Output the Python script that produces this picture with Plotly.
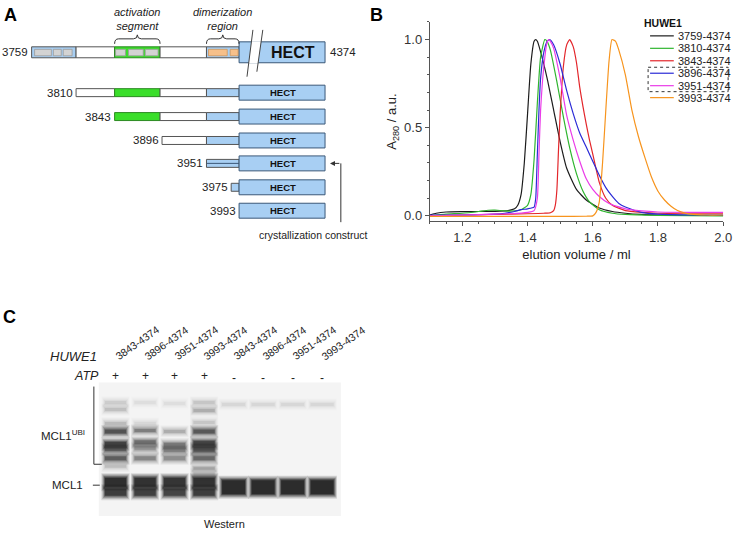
import plotly.graph_objects as go

FONT = "Arial, 'Liberation Sans', Helvetica, sans-serif"
DARK = "#222222"

# ---------------- Panel B data (size-exclusion traces) ----------------
series_names = ["3759-4374", "3810-4374", "3843-4374", "3896-4374", "3951-4374", "3993-4374"]
series_colors = ["#1c1c1c", "#2fb52f", "#e3262b", "#2b2bd6", "#ea3ce8", "#f7941d"]

vol_3759 = [1.10, 1.12, 1.15, 1.20, 1.25, 1.30, 1.34, 1.36, 1.37, 1.38, 1.39, 1.40, 1.41, 1.42, 1.425,
            1.43, 1.44, 1.46, 1.48, 1.50, 1.52, 1.55, 1.58, 1.62, 1.66, 1.70, 1.75, 1.80, 1.90, 2.00]
abs_3759 = [0.005, 0.015, 0.022, 0.024, 0.025, 0.026, 0.030, 0.040, 0.060, 0.120, 0.300, 0.580, 0.860, 0.990, 1.000,
            0.990, 0.930, 0.780, 0.600, 0.420, 0.270, 0.150, 0.090, 0.045, 0.025, 0.015, 0.008, 0.005, 0.003, 0.003]

vol_3810 = [1.10, 1.15, 1.20, 1.25, 1.28, 1.30, 1.33, 1.36, 1.38, 1.40, 1.41, 1.42, 1.43, 1.44, 1.453,
            1.46, 1.47, 1.49, 1.51, 1.53, 1.55, 1.57, 1.59, 1.62, 1.66, 1.70, 1.80, 2.00]
abs_3810 = [0.000, 0.010, 0.015, 0.025, 0.032, 0.033, 0.028, 0.028, 0.035, 0.060, 0.120, 0.320, 0.640, 0.900, 1.000,
            0.990, 0.940, 0.760, 0.560, 0.380, 0.240, 0.140, 0.080, 0.035, 0.015, 0.008, 0.003, 0.000]

vol_3843 = [1.10, 1.20, 1.30, 1.35, 1.40, 1.45, 1.47, 1.48, 1.485, 1.49, 1.495, 1.50, 1.51, 1.52, 1.529,
            1.54, 1.55, 1.56, 1.57, 1.58, 1.59, 1.60, 1.62, 1.64, 1.66, 1.70, 1.75, 1.80, 1.90, 2.00]
abs_3843 = [0.000, 0.005, 0.008, 0.010, 0.012, 0.015, 0.018, 0.030, 0.060, 0.150, 0.380, 0.580, 0.850, 0.970, 1.000,
            0.960, 0.870, 0.730, 0.620, 0.520, 0.430, 0.350, 0.190, 0.100, 0.060, 0.030, 0.020, 0.015, 0.015, 0.015]

vol_3896 = [1.10, 1.20, 1.30, 1.33, 1.36, 1.38, 1.40, 1.42, 1.425, 1.43, 1.435, 1.44, 1.45, 1.46, 1.468,
            1.48, 1.50, 1.52, 1.54, 1.56, 1.58, 1.60, 1.62, 1.64, 1.66, 1.68, 1.70, 1.75, 1.80, 1.90, 2.00]
abs_3896 = [0.005, 0.005, 0.010, 0.015, 0.025, 0.035, 0.040, 0.050, 0.100, 0.350, 0.600, 0.780, 0.930, 0.990, 1.000,
            0.970, 0.860, 0.710, 0.580, 0.470, 0.390, 0.310, 0.230, 0.160, 0.110, 0.070, 0.050, 0.020, 0.010, 0.005, 0.005]

vol_3951 = [1.10, 1.20, 1.30, 1.35, 1.40, 1.42, 1.43, 1.435, 1.44, 1.45, 1.46, 1.465, 1.47, 1.48, 1.50,
            1.52, 1.54, 1.56, 1.58, 1.60, 1.62, 1.65, 1.70, 1.75, 1.80, 1.90, 2.00]
abs_3951 = [0.000, 0.005, 0.010, 0.012, 0.020, 0.030, 0.100, 0.350, 0.600, 0.850, 0.985, 1.000, 0.990, 0.950, 0.780,
            0.570, 0.430, 0.310, 0.210, 0.150, 0.110, 0.070, 0.040, 0.028, 0.022, 0.020, 0.020]

vol_3993 = [1.10, 1.30, 1.50, 1.58, 1.60, 1.61, 1.62, 1.63, 1.64, 1.65, 1.659, 1.67, 1.68, 1.70, 1.72,
            1.74, 1.76, 1.78, 1.80, 1.82, 1.84, 1.86, 1.88, 1.90, 1.95, 2.00]
abs_3993 = [-0.003, -0.003, -0.003, -0.002, 0.000, 0.020, 0.080, 0.300, 0.600, 0.880, 1.000, 0.990, 0.940, 0.800, 0.600,
            0.450, 0.330, 0.220, 0.140, 0.090, 0.055, 0.030, 0.017, 0.010, 0.005, 0.005]

series_x = [vol_3759, vol_3810, vol_3843, vol_3896, vol_3951, vol_3993]
series_y = [abs_3759, abs_3810, abs_3843, abs_3896, abs_3951, abs_3993]

x_ticks = [1.2, 1.4, 1.6, 1.8, 2.0]
x_ticktext = ["1.2", "1.4", "1.6", "1.8", "2.0"]
y_ticks = [0.0, 0.5, 1.0]
y_ticktext = ["0.0", "0.5", "1.0"]

# ---------------- Panel A data (constructs) ----------------
construct_starts = [3759, 3810, 3843, 3896, 3951, 3975, 3993]
construct_end = 4374
# schematic (not to scale) pixel position of each construct start
construct_px = [32, 77, 116, 164, 209, 234, 242]
# domain segments of the N-terminal extension: (start px, end px, kind)
segments = [(32, 77, "blue"), (77, 116, "white"), (116, 162, "green"), (162, 209, "white"), (209, 242, "blue")]

# ---------------- Panel C data (western blot) ----------------
lane_labels = ["3843-4374", "3896-4374", "3951-4374", "3993-4374",
               "3843-4374", "3896-4374", "3951-4374", "3993-4374"]
lane_atp = ["+", "+", "+", "+", "-", "-", "-", "-"]
band_lane = [1, 1, 1, 1, 1, 1, 1, 1, 1, 1,
             2, 2, 2, 2, 2, 2, 2, 2,
             3, 3, 3, 3, 3, 3, 3,
             4, 4, 4, 4, 4, 4, 4, 4, 4, 4, 4,
             5, 5, 6, 6, 7, 7, 8, 8]
band_y = [404, 411, 425, 433, 446, 451, 460, 468, 484, 494,
          404, 425, 432, 444, 450, 460, 484, 494,
          405, 433, 447, 452, 460, 484, 494,
          404, 412, 424, 433, 445, 451, 460, 470, 476, 484, 494,
          406, 489, 406, 489, 406, 489, 406, 489]
band_h = [3, 3, 3, 4, 5, 4, 4, 3, 9, 7,
          3, 3, 3, 4, 4, 4, 9, 7,
          3, 3, 5, 4, 4, 9, 7,
          3, 3, 3, 4, 5, 5, 4, 3, 4, 9, 7,
          3, 14, 3, 14, 3, 14, 3, 14]
band_alpha = [0.10, 0.14, 0.16, 0.62, 0.72, 0.50, 0.55, 0.15, 0.92, 0.78,
              0.05, 0.07, 0.38, 0.45, 0.28, 0.35, 0.90, 0.75,
              0.05, 0.20, 0.40, 0.32, 0.32, 0.86, 0.72,
              0.12, 0.20, 0.12, 0.58, 0.70, 0.62, 0.50, 0.22, 0.14, 0.90, 0.78,
              0.07, 0.97, 0.07, 0.97, 0.07, 0.97, 0.07, 0.98]

fig = go.Figure()

for name, col, xs, ys in zip(series_names, series_colors, series_x, series_y):
    fig.add_trace(go.Scatter(x=xs, y=ys, mode="lines", name=name,
                             line=dict(color=col, width=1.2, shape="spline", smoothing=0.5),
                             showlegend=False, hoverinfo="skip", xaxis="x", yaxis="y"))

# anchor traces for overlay axes
fig.add_trace(go.Scatter(x=[None], y=[None], xaxis="x2", yaxis="y2", showlegend=False, hoverinfo="skip"))
fig.add_trace(go.Scatter(x=[None], y=[None], xaxis="x3", yaxis="y2", showlegend=False, hoverinfo="skip"))

shapes = []
ann = []


def S(**kw):
    d = dict(xref="x2", yref="y2")
    d.update(kw)
    shapes.append(d)


def A(x, y, text, size=11, xanchor="center", yanchor="middle", color=DARK, xref="x2", **kw):
    d = dict(x=x, y=y, xref=xref, yref="y2", text=text, showarrow=False,
             xanchor=xanchor, yanchor=yanchor, font=dict(family=FONT, size=size, color=color))
    d.update(kw)
    ann.append(d)


BLUE = "#a8cff3"
BLUE_LINE = "#3b5878"
GREEN = "#3ade2a"
BAR_LINE = "#555555"

# ---------------- Panel A ----------------
row_y = [52.5, 93, 117, 141, 164, 188, 211.5]
for i, (start, px, yc) in enumerate(zip(construct_starts, construct_px, row_y)):
    hb = 5.5 if i == 0 else 4
    for (s0, s1, kind) in segments:
        a0 = max(s0, px)
        if a0 >= s1:
            continue
        fill = {"blue": BLUE, "white": "white", "green": GREEN}[kind]
        lc = "#2d8a22" if kind == "green" else BAR_LINE
        S(type="rect", x0=a0, x1=s1, y0=yc - hb, y1=yc + hb, fillcolor=fill,
          line=dict(color=lc, width=1))
    if i == 4:
        S(type="line", x0=px, x1=242, y0=yc, y1=yc, line=dict(color=BLUE_LINE, width=1))
    if i == 0:
        S(type="rect", x0=242, x1=329, y0=42, y1=63, fillcolor=BLUE, line=dict(color=BLUE_LINE, width=1))
        A(297, 53, "<b>HECT</b>", size=16, color="#111")
        A(30, yc, str(start), size=11.5, xanchor="right")
        A(332, yc, str(construct_end), size=11.5, xanchor="left")
    else:
        S(type="rect", x0=242, x1=329, y0=yc - 7.5, y1=yc + 7.5, fillcolor=BLUE,
          line=dict(color=BLUE_LINE, width=1))
        A(286, yc, "<b>HECT</b>", size=9.5, color="#111")
        A(px - 1.5, yc, str(start), size=11.5, xanchor="right")

# gray/orange subdomain pills on the full-length construct
for (p0, p1) in [(35, 52), (54, 62), (64, 73), (117, 127), (130, 145), (147, 160)]:
    S(type="rect", x0=p0, x1=p1, y0=49.5, y1=56, fillcolor="#d3d3d3", line=dict(color="#9a9a9a", width=0.8))
for (p0, p1) in [(211, 230), (233, 241)]:
    S(type="rect", x0=p0, x1=p1, y0=49.5, y1=56, fillcolor="#f7c08a", line=dict(color="#d0955a", width=0.8))

# break marks on HECT
S(type="path", path="M 254.5 41.5 L 264.3 41.5 L 261.3 63.5 L 251.8 63.5 Z", fillcolor="white",
  line=dict(width=0))
S(type="line", x0=256, y0=30, x1=250, y1=77, line=dict(color="#444", width=1))
S(type="line", x0=266, y0=30, x1=260, y1=72, line=dict(color="#444", width=1))

# braces + labels
for (b0, b1, label) in [(116, 162, "<i>activation<br>segment</i>"), (209, 242, "<i>dimerization<br>region</i>")]:
    m = (b0 + b1) / 2
    S(type="path", path=f"M {b0} 44 Q {b0} 39 {b0+4} 39 L {m-4} 39 Q {m} 39 {m} 35 "
                        f"Q {m} 39 {m+4} 39 L {b1-4} 39 Q {b1} 39 {b1} 44",
      line=dict(color="#333", width=1))
    A(m, 19, label, size=11, color="#222")

# crystallization construct arrow
S(type="line", x0=345, x1=345, y0=164, y1=223, line=dict(color="#333", width=1))
ann.append(dict(x=334, y=164, ax=345, ay=164, xref="x2", yref="y2", axref="x2", ayref="y2",
                showarrow=True, arrowhead=2, arrowsize=1, arrowwidth=1, arrowcolor="#333", text=" ",
                font=dict(size=1)))
A(317, 236, "crystallization construct", size=10.5)

# ---------------- Panel B legend (manual) ----------------
A(650, 23, "<b>HUWE1</b>", size=10.5, xanchor="left", color="#111")
leg_y = [36, 48.5, 61, 73.5, 86, 98]
for name, col, ly in zip(series_names, series_colors, leg_y):
    S(type="line", x0=658, x1=682, y0=ly, y1=ly, line=dict(color=col, width=1.2))
    A(684, ly, name, size=11, xanchor="left", color="#222")
S(type="rect", x0=656, x1=737, y0=67.5, y1=92, line=dict(color="#333", width=1, dash="dot"))

# ---------------- Panel C ----------------
S(type="rect", x0=100, x1=345, y0=384, y1=518, fillcolor="#f4f4f4", line=dict(width=0), layer="below")
for i, (lab, atp) in enumerate(zip(lane_labels, lane_atp)):
    lane = i + 1
    A(lane, 344, lab, size=10.5, xref="x3", textangle=-35, xshift=21)
    A(lane, 377 if atp == "+" else 379, atp, size=12, xref="x3")

# soft-edged bands: several nested layers
blur_dx = [0.12, 0.09, 0.06, 0.03, 0.0]
blur_dy = [4.5, 3.4, 2.3, 1.1, 0.0]
blur_f = [0.15, 0.2, 0.3, 0.45, 0.7]
for ln, by, bh, al in zip(band_lane, band_y, band_h, band_alpha):
    w = 0.36 if ln <= 4 else 0.39
    for dx, dy, f in zip(blur_dx, blur_dy, blur_f):
        shapes.append(dict(type="rect", xref="x3", yref="y2", x0=ln - w - dx, x1=ln + w + dx,
                           y0=by - bh / 2 - dy, y1=by + bh / 2 + dy,
                           fillcolor=f"rgba(25,25,25,{al*f:.3f})", line=dict(width=0)))

A(100, 358, "<i>HUWE1</i>", size=13, xanchor="right")
A(102, 377, "<i>ATP</i>", size=12.5, xanchor="right")
S(type="line", x0=95, x1=95, y0=388, y1=466, line=dict(color="#333", width=1))
S(type="line", x0=95, x1=103, y0=466, y1=466, line=dict(color="#333", width=1))
A(88, 437, "MCL1<sup>UBI</sup>", size=11.5, xanchor="right")
A(86, 487, "MCL1", size=11.5, xanchor="right")
S(type="line", x0=94, x1=101, y0=487, y1=487, line=dict(color="#333", width=1))
A(227, 526, "Western", size=11)

# panel letters
A(11, 15, "<b>A</b>", size=18, color="#000")
A(381, 15, "<b>B</b>", size=18, color="#000")
A(10, 318, "<b>C</b>", size=18, color="#000")

fig.update_layout(
    width=747, height=536,
    margin=dict(l=0, r=0, t=0, b=0),
    paper_bgcolor="white", plot_bgcolor="rgba(0,0,0,0)",
    font=dict(family=FONT, color=DARK),
    showlegend=False,
    shapes=shapes, annotations=ann,
    xaxis=dict(domain=[435 / 747, 732 / 747], range=[1.1, 2.0], anchor="y",
               showline=True, linecolor="#555", linewidth=1, mirror=False,
               ticks="outside", ticklen=4, tickcolor="#555",
               tickvals=x_ticks, ticktext=x_ticktext,
               minor=dict(dtick=0.05, tick0=1.1, ticks="outside", ticklen=2, tickcolor="#555", showgrid=False),
               showgrid=False, zeroline=False,
               tickfont=dict(family=FONT, size=13, color="#333"),
               title=dict(text="elution volume / ml", font=dict(family=FONT, size=13, color="#222"), standoff=6)),
    yaxis=dict(domain=[1 - 222 / 536, 1 - 22 / 536], range=[-0.03, 1.1], anchor="x",
               showline=True, linecolor="#555", linewidth=1,
               ticks="outside", ticklen=4, tickcolor="#555",
               tickvals=y_ticks, ticktext=y_ticktext,
               minor=dict(dtick=0.1, tick0=0, ticks="outside", ticklen=2, tickcolor="#555", showgrid=False),
               showgrid=False, zeroline=False,
               tickfont=dict(family=FONT, size=13, color="#333"),
               title=dict(text="A<sub>280</sub> / a.u.", font=dict(family=FONT, size=13, color="#222"), standoff=4)),
    xaxis2=dict(domain=[0, 1], range=[0, 747], visible=False, anchor="y2", fixedrange=True),
    yaxis2=dict(domain=[0, 1], range=[536, 0], visible=False, anchor="x2", fixedrange=True),
    xaxis3=dict(domain=[102 / 747, 341 / 747], range=[0.5, 8.5], visible=False, anchor="y2", fixedrange=True),
)

fig.write_html("out.html", config={"displayModeBar": False},
               post_script="document.body.style.margin='0px';document.body.style.overflow='hidden';")
